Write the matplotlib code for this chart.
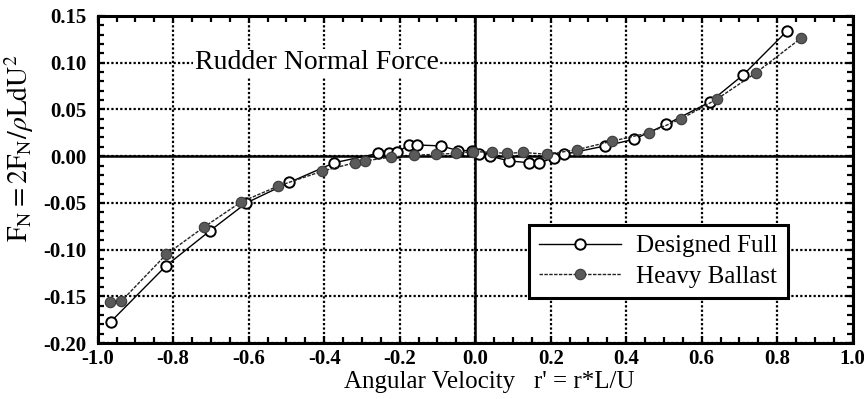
import numpy as np
import matplotlib
matplotlib.use("Agg")
import matplotlib.pyplot as plt
from matplotlib.ticker import MultipleLocator

plt.rcParams['font.family'] = ['Liberation Serif', 'DejaVu Serif']
plt.rcParams['mathtext.fontset'] = 'stix'

# ---- data ----
full_x = [-0.965, -0.818, -0.703, -0.606, -0.492, -0.373, -0.257, -0.227, -0.207,
          -0.176, -0.154, -0.091, -0.045, -0.008, 0.010, 0.040, 0.089, 0.142,
          0.170, 0.208, 0.235, 0.345, 0.420, 0.506, 0.622, 0.710, 0.826]
full_y = [-0.177, -0.117, -0.080, -0.050, -0.028, -0.007, 0.003, 0.003, 0.004,
          0.012, 0.012, 0.011, 0.006, 0.006, 0.002, 0.000, -0.005, -0.007,
          -0.007, -0.002, 0.002, 0.011, 0.018, 0.034, 0.058, 0.087, 0.134]

ballast_x = [-0.966, -0.937, -0.818, -0.719, -0.620, -0.522, -0.405, -0.319, -0.291,
             -0.224, -0.162, -0.105, -0.052, -0.005, 0.045, 0.084, 0.126, 0.191,
             0.270, 0.362, 0.460, 0.546, 0.640, 0.743, 0.862]
ballast_y = [-0.156, -0.155, -0.105, -0.076, -0.049, -0.032, -0.016, -0.007, -0.005,
             -0.001, 0.001, 0.002, 0.003, 0.005, 0.004, 0.003, 0.004, 0.002,
             0.007, 0.016, 0.025, 0.040, 0.061, 0.089, 0.126]

x_ticks = [-1.0, -0.8, -0.6, -0.4, -0.2, 0.0, 0.2, 0.4, 0.6, 0.8, 1.0]
y_ticks = [-0.20, -0.15, -0.10, -0.05, 0.00, 0.05, 0.10, 0.15]

fig = plt.figure(figsize=(8.64, 3.99), dpi=100)
ax = fig.add_axes([0.113, 0.140, 0.874, 0.820])

# grid + zero lines
ax.grid(True, which='major', color='black', linestyle=(0, (1, 1)), linewidth=1.6)
ax.axhline(0, color='black', linewidth=1.8, zorder=1.5)
ax.axvline(0, color='black', linewidth=1.8, zorder=1.5)

ax.plot(full_x, full_y, color='black', linewidth=1.0, marker='o', markersize=7.5,
        markerfacecolor='white', markeredgecolor='black', markeredgewidth=1.4,
        label='Designed Full', zorder=3)
ax.plot(ballast_x, ballast_y, color='#222222', linewidth=1.0, linestyle=(0, (2.5, 1)),
        marker='o', markersize=7.5, markerfacecolor='#5a5a5a', markeredgecolor='#3a3a3a',
        markeredgewidth=0.8, label='Heavy Ballast', zorder=3)

ax.set_xlim(-1.0, 1.0)
ax.set_ylim(-0.20, 0.15)
ax.set_xticks(x_ticks)
ax.set_yticks(y_ticks)
ax.set_xticklabels([f"{v:.1f}" for v in x_ticks])
ax.set_yticklabels([f"{v:.2f}" for v in y_ticks])
ax.xaxis.set_minor_locator(MultipleLocator(0.05))
ax.yaxis.set_minor_locator(MultipleLocator(0.01))
ax.tick_params(which='both', direction='in', top=True, right=True, width=1.6)
ax.tick_params(which='major', length=5, labelsize=15)
ax.tick_params(axis='x', which='major', pad=4)
ax.tick_params(axis='y', which='major', pad=8)
ax.tick_params(which='minor', length=4)
for lab in ax.get_xticklabels() + ax.get_yticklabels():
    lab.set_fontweight('bold')
for sp in ax.spines.values():
    sp.set_linewidth(2.2)

ax.set_xlabel("Angular Velocity   r' = r*L/U", fontsize=18)
ax.xaxis.set_label_coords(0.518, -0.085)
ax.set_ylabel(r"$\mathrm{F_N = 2F_N/}\rho\mathrm{LdU^2}$", fontsize=20)
ax.yaxis.set_label_coords(-0.082, 0.596)

ax.text(-0.42, 0.10, "Rudder Normal Force", fontsize=20, ha='center', va='center',
        bbox=dict(facecolor='white', edgecolor='none', pad=1), zorder=4)

leg = ax.legend(loc='lower right', bbox_to_anchor=(0.914, 0.138), fontsize=18,
                frameon=True, fancybox=False, framealpha=1, edgecolor='black',
                handlelength=3.3, handletextpad=0.6, borderpad=0.4,
                labelspacing=0.32, borderaxespad=0)
leg.get_frame().set_linewidth(2.2)

fig.savefig("out.png", dpi=100)
